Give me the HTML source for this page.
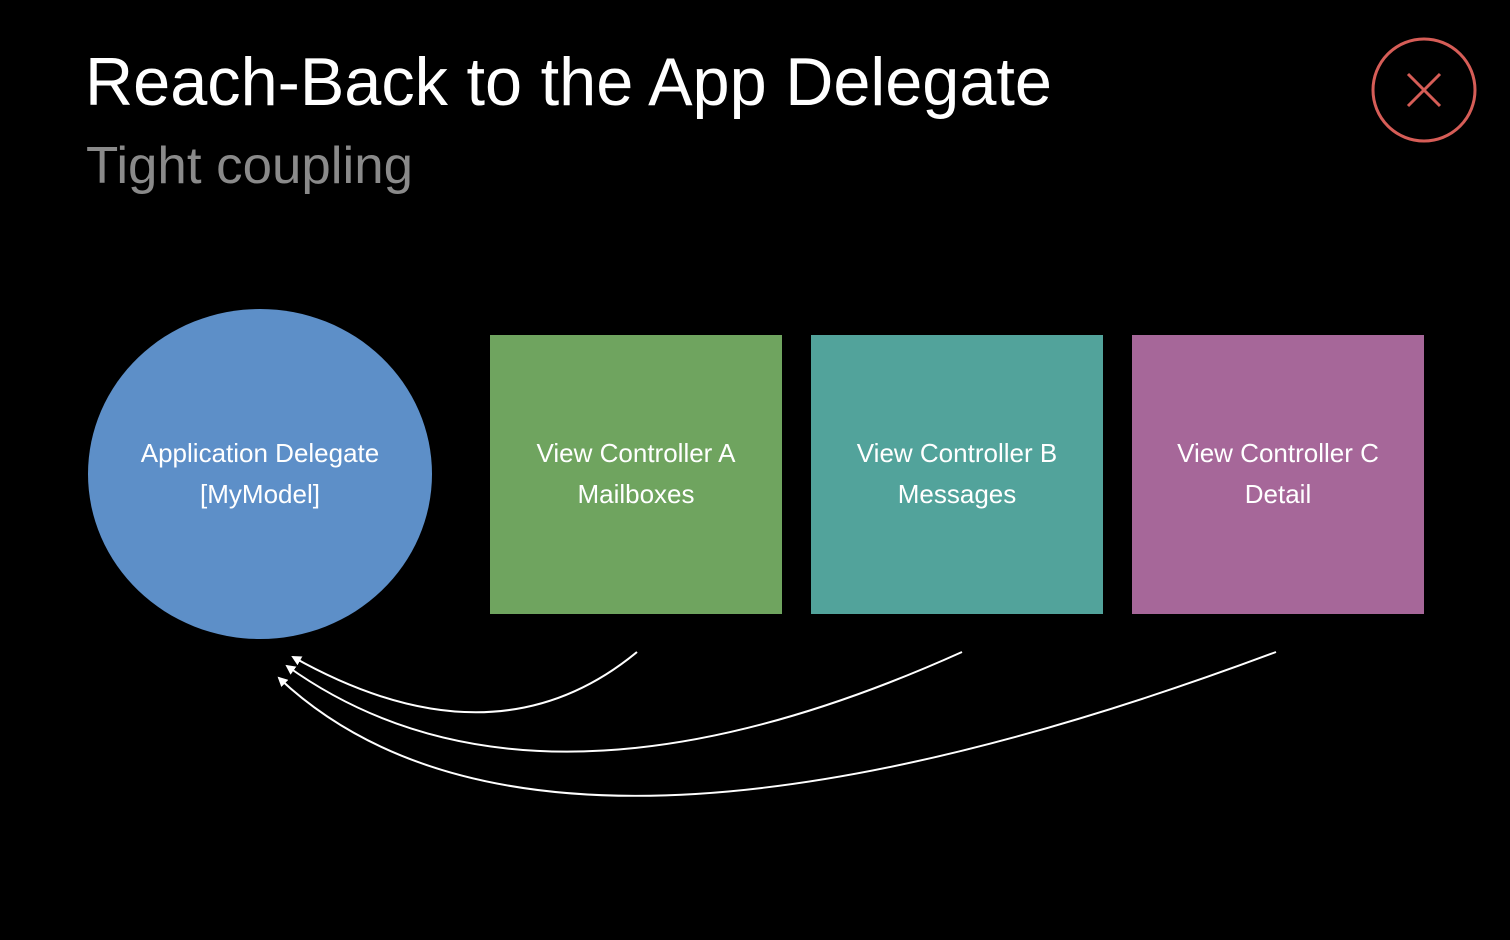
<!DOCTYPE html>
<html><head><meta charset="utf-8"><style>
html,body{margin:0;padding:0;background:#000;width:1510px;height:940px;overflow:hidden}
</style></head><body>
<svg width="1510" height="940" viewBox="0 0 1510 940" xmlns="http://www.w3.org/2000/svg" style="display:block">
<rect width="1510" height="940" fill="#000"/>
<text x="85" y="105" font-family="Liberation Sans, sans-serif" font-size="68" fill="#fff" textLength="967" lengthAdjust="spacingAndGlyphs">Reach-Back to the App Delegate</text>
<text x="86" y="183" font-family="Liberation Sans, sans-serif" font-size="52" fill="#8a8a8a" textLength="327" lengthAdjust="spacingAndGlyphs">Tight coupling</text>
<circle cx="1424" cy="90" r="51" fill="none" stroke="#d65d57" stroke-width="3"/>
<path d="M1408 74 L1440 106 M1440 74 L1408 106" stroke="#d65d57" stroke-width="3"/>
<ellipse cx="260" cy="474" rx="172" ry="165" fill="#5d8fc8"/>
<rect x="490" y="335" width="292" height="279" fill="#6fa45f"/>
<rect x="811" y="335" width="292" height="279" fill="#52a39b"/>
<rect x="1132" y="335" width="292" height="279" fill="#a66799"/>
<g font-family="Liberation Sans, sans-serif" font-size="26" fill="#fff" text-anchor="middle">
<text x="260" y="462">Application Delegate</text><text x="260" y="503">[MyModel]</text>
<text x="636" y="462">View Controller A</text><text x="636" y="503">Mailboxes</text>
<text x="957" y="462">View Controller B</text><text x="957" y="503">Messages</text>
<text x="1278" y="462">View Controller C</text><text x="1278" y="503">Detail</text>
</g>
<defs><marker id="ah" markerWidth="10" markerHeight="10" refX="8" refY="5" orient="auto" markerUnits="userSpaceOnUse"><path d="M0,0 L10,5 L0,10 z" fill="#fff"/></marker></defs>
<g fill="none" stroke="#fff" stroke-width="2" marker-end="url(#ah)">
<path d="M637 652 Q494 770 293 657"/>
<path d="M962 652 Q535 844 287 666"/>
<path d="M1276 652 Q542 926 279 678"/>
</g>
</svg>
</body></html>
